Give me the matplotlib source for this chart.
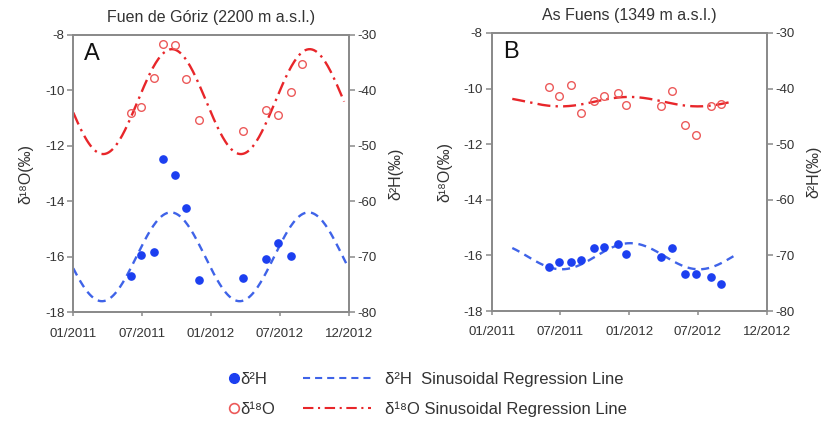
import matplotlib
matplotlib.use("Agg")
import matplotlib.pyplot as plt
import numpy as np
from matplotlib.lines import Line2D

plt.rcParams["font.family"] = ["Liberation Sans", "DejaVu Sans"]
plt.rcParams["axes.unicode_minus"] = False

# sampling dates as months since 01/2011
a_o18_months = [5.0, 5.9, 7.0, 7.8, 8.9, 9.8, 11.0, 14.8, 16.8, 17.8, 19.0, 19.9]
a_o18 = [-10.81, -10.61, -9.57, -8.32, -8.37, -9.60, -11.08, -11.48, -10.70, -10.88, -10.08, -9.07]
a_h2_months = [5.0, 5.9, 7.0, 7.8, 8.9, 9.8, 11.0, 14.8, 16.8, 17.8, 19.0]
a_h2 = [-73.4, -69.6, -69.2, -52.4, -55.2, -61.3, -74.2, -73.9, -70.4, -67.5, -69.8]

b_o18_months = [5.0, 5.9, 6.9, 7.8, 8.9, 9.8, 11.0, 11.7, 14.8, 15.7, 16.9, 17.8, 19.1, 20.0]
b_o18 = [-9.94, -10.26, -9.87, -10.87, -10.44, -10.26, -10.16, -10.60, -10.64, -10.10, -11.30, -11.66, -10.64, -10.57]
b_h2_months = [5.0, 5.9, 6.9, 7.8, 8.9, 9.8, 11.0, 11.7, 14.8, 15.7, 16.9, 17.8, 19.1, 20.0]
b_h2 = [-72.1, -71.2, -71.2, -70.8, -68.7, -68.4, -68.0, -69.7, -70.3, -68.7, -73.4, -73.4, -73.8, -75.1]

# sinusoidal fits: (mean, amplitude, month of maximum, first month, last month)
a_o18_fit = (-10.41, 1.89, 8.6, 0.0, 23.6)
a_h2_fit = (-70.0, 8.0, 8.5, 0.0, 23.9)
b_o18_fit = (-10.47, 0.17, 12.0, 1.8, 20.9)
b_h2_fit = (-70.15, 2.35, 12.1, 1.8, 21.1)

x_ticks = [0, 6, 12, 18, 24]
x_labels = ["01/2011", "07/2011", "01/2012", "07/2012", "12/2012"]
titles = ["Fuen de Góriz (2200 m a.s.l.)", "As Fuens (1349 m a.s.l.)"]
letters = ["A", "B"]

RED = "#e8262a"
RED_PT = "#ec5a5a"
BLUE = "#1c3ff0"
BLUE_LN = "#3f63e8"
GREY = "#8a8a8a"
TXT = "#333333"


def sine_curve(fit, period=12.0):
    mean, amp, peak, t0, t1 = fit
    t = np.linspace(t0, t1, 300)
    return t, mean + amp * np.cos(2 * np.pi * (t - peak) / period)


def style_axis(ax):
    for s in ax.spines.values():
        s.set_color(GREY)
        s.set_linewidth(1.3)
    ax.tick_params(colors=GREY, labelcolor=TXT, labelsize=9.5, length=4, width=1.1,
                   direction="out", pad=2.5)


def draw_panel(ax, title, letter, o18_t, o18, h2_t, h2, o18_fit, h2_fit):
    ax2 = ax.twinx()
    t, y = sine_curve(o18_fit)
    ax.plot(t, y, color=RED, lw=1.7, dashes=(5.5, 2.2, 1.0, 2.2))
    ax.plot(o18_t, o18, "o", mfc="none", mec=RED_PT, mew=1.0, ms=5.5)
    t, y = sine_curve(h2_fit)
    ax2.plot(t, y, color=BLUE_LN, lw=1.7, dashes=(3.4, 2.4))
    ax2.plot(h2_t, h2, "o", color=BLUE, ms=5.2)

    ax.set_xlim(0, 24)
    ax.set_ylim(-18, -8)
    ax2.set_ylim(-80, -30)
    ax.set_xticks(x_ticks)
    ax.set_xticklabels(x_labels)
    ax.set_yticks([-18, -16, -14, -12, -10, -8])
    ax2.set_yticks([-80, -70, -60, -50, -40, -30])
    style_axis(ax)
    style_axis(ax2)
    ax.tick_params(axis="x", length=3, pad=8)

    ax.set_ylabel("δ¹⁸O(‰)", color=TXT, fontsize=11.5, labelpad=8)
    ax2.set_ylabel("δ²H(‰)", color=TXT, fontsize=11.5, rotation=90, labelpad=8)
    ax.set_title(title, color=TXT, fontsize=11.5, pad=9)
    ax.text(0.04, 0.97, letter, transform=ax.transAxes, fontsize=17,
            color="#111111", ha="left", va="top")


fig = plt.figure(figsize=(8.28, 4.24), dpi=100)
ax_a = fig.add_axes([0.0885, 0.2634, 0.3326, 0.6547])
ax_b = fig.add_axes([0.5938, 0.2665, 0.3321, 0.6557])

draw_panel(ax_a, titles[0], letters[0], a_o18_months, a_o18, a_h2_months, a_h2, a_o18_fit, a_h2_fit)
draw_panel(ax_b, titles[1], letters[1], b_o18_months, b_o18, b_h2_months, b_h2, b_o18_fit, b_h2_fit)

# legend: markers in one block, regression lines in another
pt_handles = [
    Line2D([], [], ls="none", marker="o", color=BLUE, ms=7),
    Line2D([], [], ls="none", marker="o", mfc="none", mec=RED_PT, mew=1.2, ms=7),
]
ln_handles = [
    Line2D([], [], color=BLUE_LN, lw=1.5, dashes=(3.4, 2.4)),
    Line2D([], [], color=RED, lw=1.5, dashes=(5.0, 2.2, 1.0, 2.2)),
]
leg_kw = dict(frameon=False, fontsize=12, labelspacing=0.87, labelcolor=TXT,
              borderpad=0, borderaxespad=0)
fig.legend(pt_handles, ["δ²H", "δ¹⁸O"], loc="upper left", bbox_to_anchor=(230 / 828, 1 - 372 / 424),
           handlelength=0.5, handletextpad=0.1, **leg_kw)
fig.legend(ln_handles, ["δ²H  Sinusoidal Regression Line", "δ¹⁸O Sinusoidal Regression Line"],
           loc="upper left", bbox_to_anchor=(303 / 828, 1 - 372 / 424),
           handlelength=4.1, handletextpad=0.8, **leg_kw)

fig.savefig("out.png", dpi=100)
